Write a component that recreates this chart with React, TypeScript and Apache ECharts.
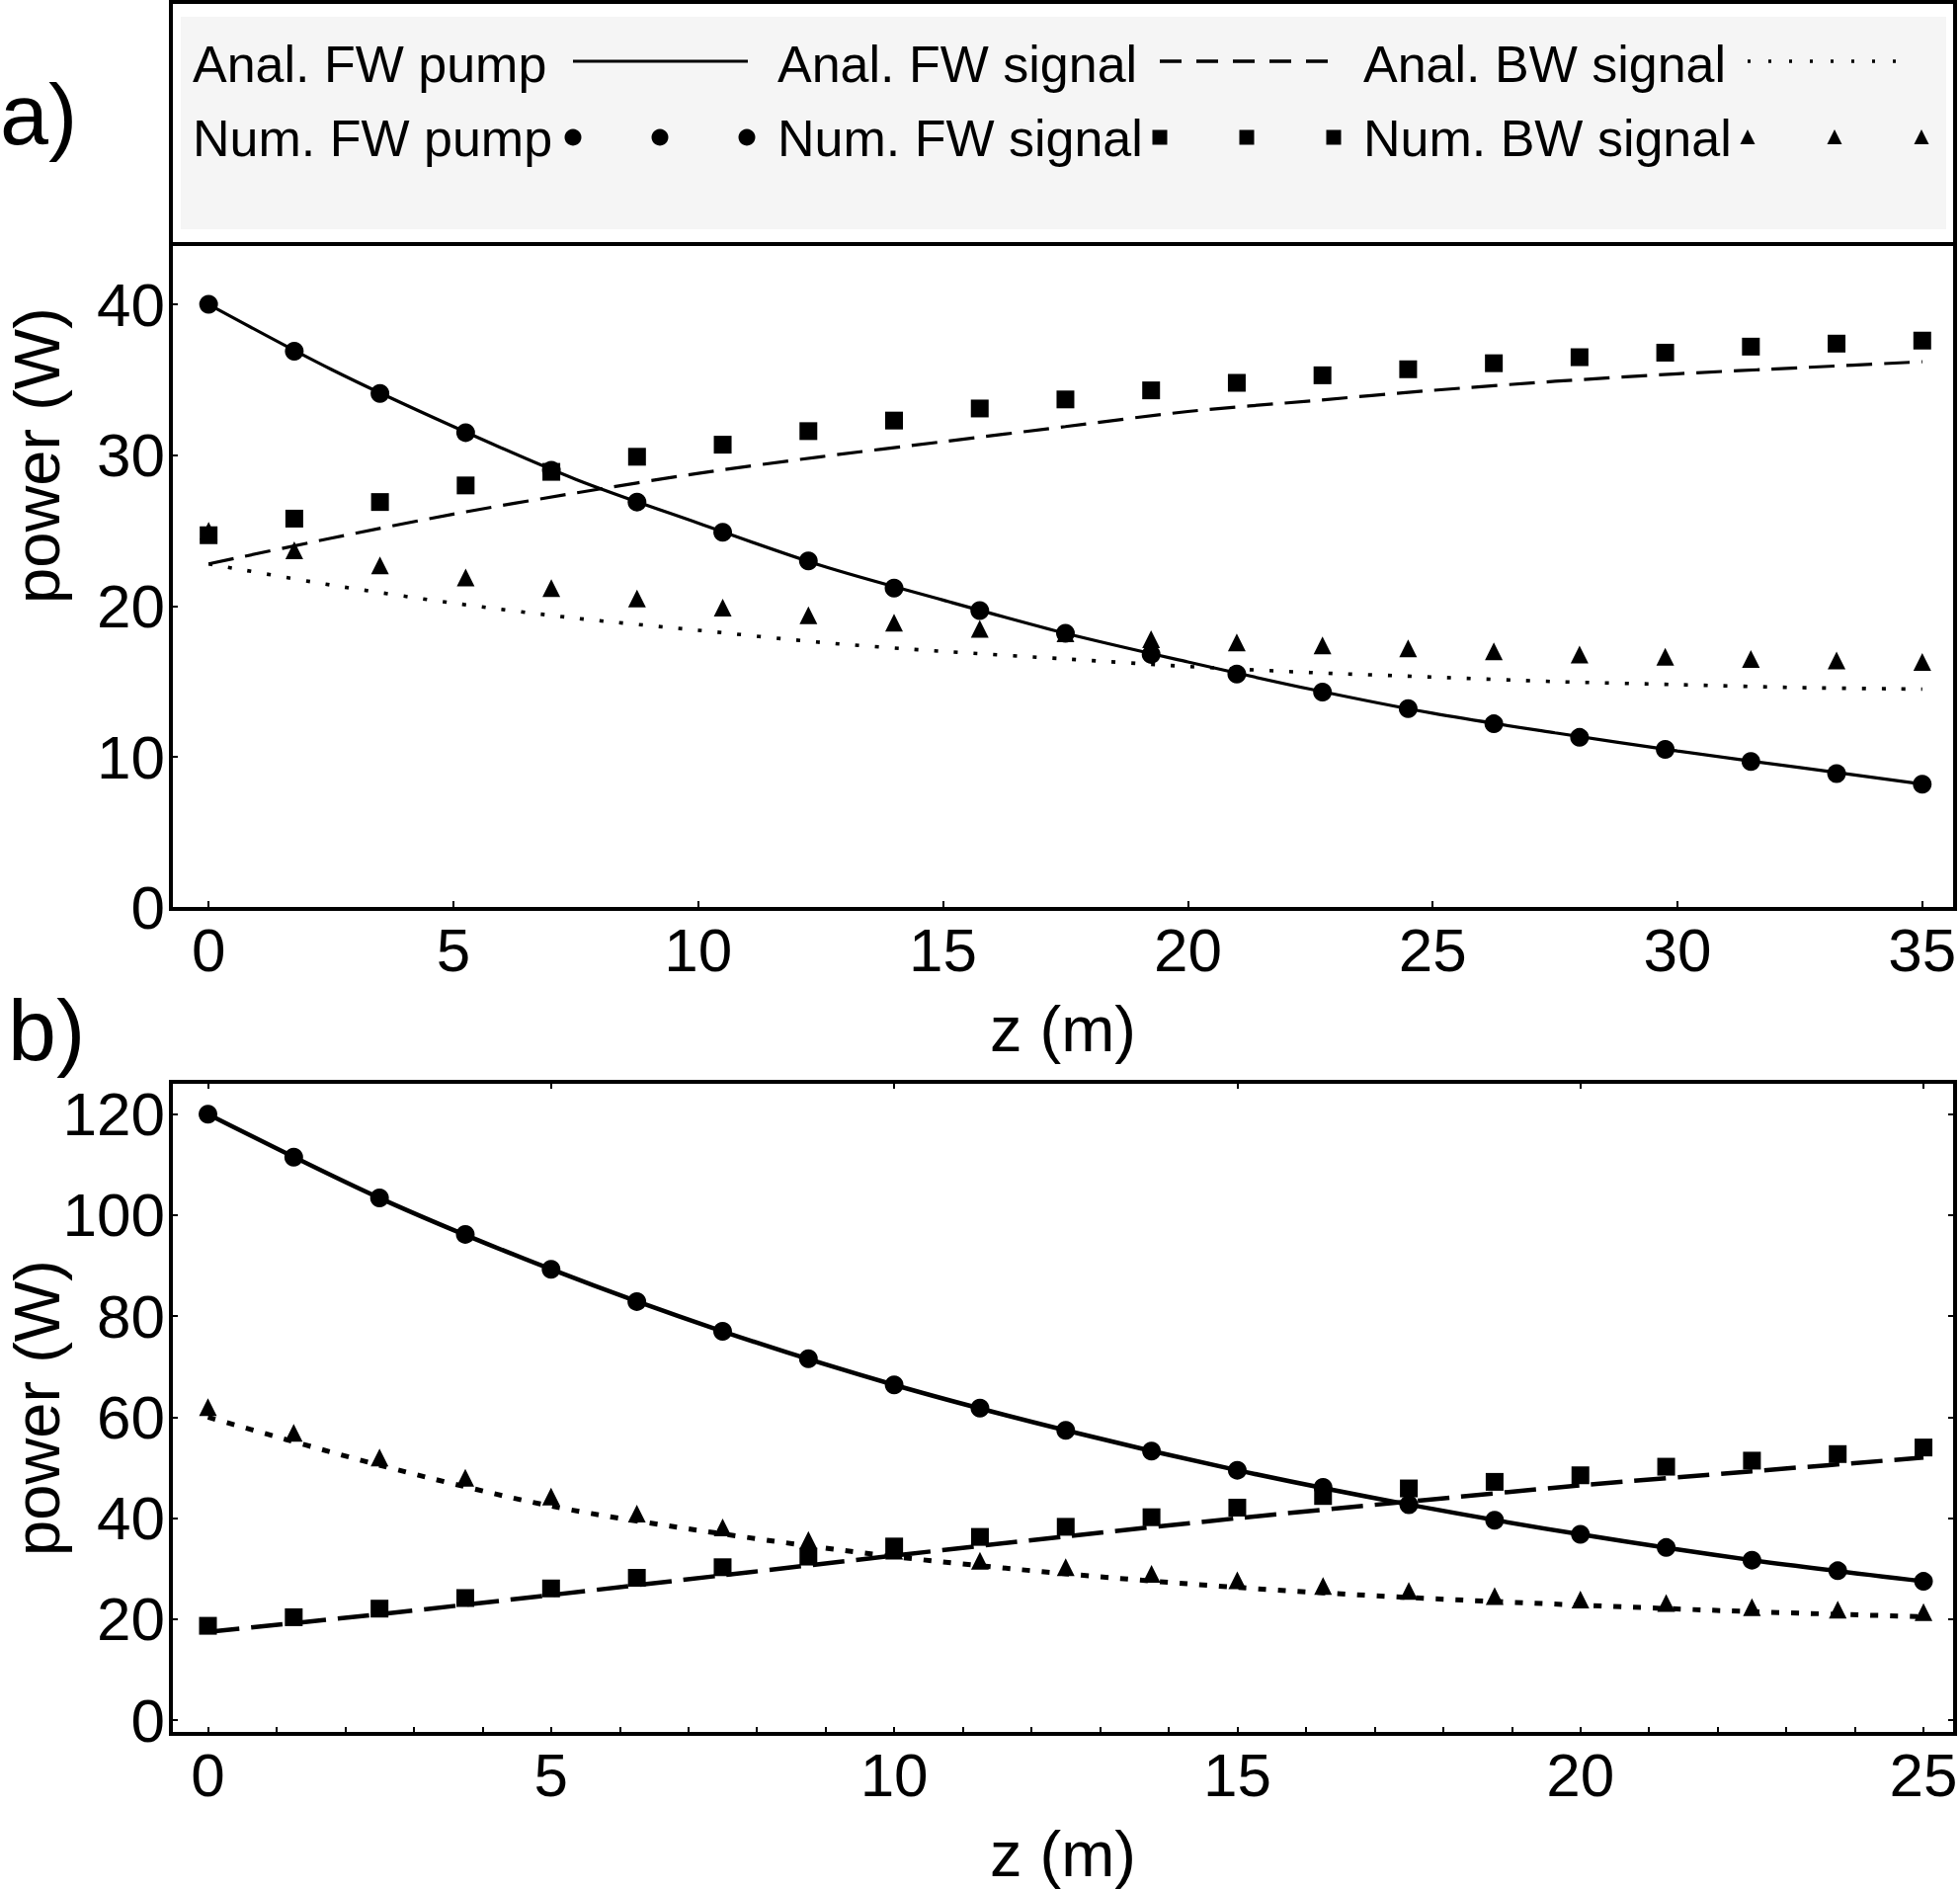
import React, { useEffect, useRef } from "react";
import * as echarts from "echarts";

// ---------- Panel a) data ----------
const zNumA = [0, 1.75, 3.5, 5.25, 7, 8.75, 10.5, 12.25, 14, 15.75, 17.5, 19.25, 21, 22.75, 24.5, 26.25, 28, 29.75, 31.5, 33.25, 35];
const numPumpA = [40.0, 36.9, 34.1, 31.5, 29.0, 26.9, 24.9, 23.0, 21.2, 19.7, 18.2, 16.8, 15.5, 14.3, 13.2, 12.2, 11.3, 10.5, 9.7, 8.9, 8.2];
const numSigA = [24.7, 25.8, 26.9, 28.0, 28.9, 29.9, 30.7, 31.6, 32.3, 33.1, 33.7, 34.3, 34.8, 35.3, 35.7, 36.1, 36.5, 36.8, 37.2, 37.4, 37.6];
const numBwA = [25.0, 23.7, 22.7, 21.9, 21.2, 20.5, 19.9, 19.4, 18.9, 18.5, 18.2, 17.8, 17.6, 17.4, 17.2, 17.0, 16.8, 16.65, 16.5, 16.4, 16.3];

const zAnaA = [0, 2.5, 5, 7.5, 10, 12.5, 15, 17.5, 20, 22.5, 25, 27.5, 30, 32.5, 35];
const anaPumpA = [40.0, 35.7, 31.9, 28.4, 25.5, 22.7, 20.4, 18.2, 16.3, 14.5, 12.9, 11.6, 10.4, 9.3, 8.2];
const anaSigA = [22.8, 24.5, 26.1, 27.5, 28.8, 29.9, 30.9, 31.9, 32.9, 33.6, 34.3, 34.9, 35.4, 35.8, 36.2];
const anaBwA = [22.8, 21.4, 20.2, 19.2, 18.4, 17.6, 17.0, 16.5, 16.0, 15.6, 15.3, 15.0, 14.8, 14.6, 14.5];

const xTicksA = [0, 5, 10, 15, 20, 25, 30, 35];
const yTicksA = [0, 10, 20, 30, 40];

// ---------- Panel b) data ----------
const zNumB = [0, 1.25, 2.5, 3.75, 5, 6.25, 7.5, 8.75, 10, 11.25, 12.5, 13.75, 15, 16.25, 17.5, 18.75, 20, 21.25, 22.5, 23.75, 25];
const numPumpB = [120.0, 111.5, 103.4, 96.2, 89.3, 82.9, 77.0, 71.6, 66.4, 61.8, 57.4, 53.3, 49.5, 46.1, 42.7, 39.6, 36.8, 34.2, 31.7, 29.6, 27.5];
const numSigB = [18.7, 20.4, 22.1, 24.2, 26.1, 28.2, 30.3, 32.4, 34.4, 36.3, 38.3, 40.2, 42.1, 44.4, 45.9, 47.2, 48.5, 50.2, 51.4, 52.7, 54.0];
const numBwB = [62.0, 56.9, 52.0, 48.0, 44.3, 40.9, 38.2, 35.7, 33.6, 31.6, 30.3, 29.0, 27.7, 26.6, 25.6, 24.6, 23.9, 23.2, 22.4, 21.9, 21.4];

const zAnaB = [0, 2.5, 5, 7.5, 10, 12.5, 15, 17.5, 20, 22.5, 25];
const anaPumpB = [120.0, 103.4, 89.3, 77.0, 66.4, 57.4, 49.5, 42.7, 36.8, 31.7, 27.5];
const anaSigB = [17.5, 21.0, 24.8, 28.7, 32.6, 36.4, 40.0, 43.3, 46.5, 49.3, 52.0];
const anaBwB = [60.0, 50.5, 42.4, 36.9, 32.4, 29.0, 26.3, 24.3, 22.8, 21.5, 20.5];

const xTicksB = [0, 5, 10, 15, 20, 25];
const xMinorTicksB = [0, 1, 2, 3, 4, 5, 6, 7, 8, 9, 10, 11, 12, 13, 14, 15, 16, 17, 18, 19, 20, 21, 22, 23, 24, 25];
const yTicksB = [0, 20, 40, 60, 80, 100, 120];

// ---------- Text ----------
const legendRow1 = ["Anal. FW pump", "Anal. FW signal", "Anal. BW signal"];
const legendRow2 = ["Num. FW pump", "Num. FW signal", "Num. BW signal"];
const xName = "z (m)";
const yName = "power (W)";

const FONT = "'Liberation Sans', Arial, Helvetica, sans-serif";
const BLACK = "#000";

const pairs = (xs: number[], ys: number[]) => xs.map((x, i) => [x, ys[i]]);

function buildOption() {
  const tick = (vals: number[], len = 8) => ({
    show: true,
    inside: true,
    length: len,
    customValues: vals,
    lineStyle: { color: BLACK, width: 2 },
  });
  const label = (vals: number[], margin: number) => ({
    show: true,
    customValues: vals,
    fontSize: 62,
    fontFamily: FONT,
    color: BLACK,
    margin,
    hideOverlap: false,
    showMinLabel: true,
    showMaxLabel: true,
  });
  const nameStyle = { fontSize: 65, fontFamily: FONT, color: BLACK };
  const noLine = { show: false, onZero: false };

  const lineSeries = (xi: number, data: number[][], width: number, type: any) => ({
    type: "line",
    xAxisIndex: xi,
    yAxisIndex: xi === 0 ? 0 : 1,
    data,
    smooth: 0.3,
    symbol: "none",
    showSymbol: false,
    silent: true,
    lineStyle: { color: BLACK, width, type, cap: "butt" },
    z: 2,
  });
  const scatterSeries = (xi: number, data: number[][], symbol: string, size: number) => ({
    type: "scatter",
    xAxisIndex: xi,
    yAxisIndex: xi === 0 ? 0 : 1,
    data,
    symbol,
    symbolSize: size,
    silent: true,
    itemStyle: { color: BLACK, opacity: 1 },
    z: 3,
  });

  // legend graphics
  const colX = [195, 787, 1380];
  const sampleX = [580, 1174, 1769];
  const sampleEnd = [757, 1344, 1937];
  const legendEls: any[] = [];
  legendRow1.forEach((t, i) => {
    legendEls.push({
      type: "text",
      x: colX[i],
      y: 65,
      z: 20,
      style: { text: t, font: `52px ${FONT}`, fill: BLACK, textAlign: "left", textVerticalAlign: "middle" },
    });
  });
  legendRow2.forEach((t, i) => {
    legendEls.push({
      type: "text",
      x: colX[i],
      y: 140,
      z: 20,
      style: { text: t, font: `52px ${FONT}`, fill: BLACK, textAlign: "left", textVerticalAlign: "middle" },
    });
  });
  const dashes = [null, [22, 15], [3, 18]];
  sampleX.forEach((sx, i) => {
    legendEls.push({
      type: "line",
      z: 20,
      shape: { x1: sx, y1: 62, x2: sampleEnd[i], y2: 62 },
      style: { stroke: BLACK, lineWidth: i === 0 ? 3 : 3.5, lineDash: dashes[i] || undefined, lineCap: "butt" },
    });
  });
  const symY = 139;
  const offsets = [0, 88, 176];
  offsets.forEach((o) => {
    legendEls.push({ type: "circle", z: 20, shape: { cx: sampleX[0] + o, cy: symY, r: 8.5 }, style: { fill: BLACK } });
    legendEls.push({
      type: "rect",
      z: 20,
      shape: { x: sampleX[1] + o - 7.5, y: symY - 7.5, width: 15, height: 15 },
      style: { fill: BLACK },
    });
    const tx = sampleX[2] + o;
    legendEls.push({
      type: "polygon",
      z: 20,
      shape: { points: [[tx, symY - 8], [tx + 7.5, symY + 7], [tx - 7.5, symY + 7]] },
      style: { fill: BLACK },
    });
  });

  const yTitle = (y: number) => ({
    type: "text",
    x: 37,
    y,
    rotation: Math.PI / 2,
    z: 20,
    style: { text: yName, font: `65px ${FONT}`, fill: BLACK, textAlign: "center", textVerticalAlign: "middle" },
  });

  return {
    animation: false,
    backgroundColor: "#fff",
    grid: [
      { left: 173, top: 247, width: 1806, height: 673, show: false, containLabel: false, outerBoundsMode: "none" },
      { left: 173, top: 1095, width: 1806, height: 660, show: false, containLabel: false, outerBoundsMode: "none" },
    ],
    xAxis: [
      {
        gridIndex: 0,
        type: "value",
        position: "bottom",
        min: -0.77,
        max: 35.67,
        axisLine: noLine,
        splitLine: { show: false },
        axisTick: tick(xTicksA),
        axisLabel: label(xTicksA, 10),
        name: xName,
        nameLocation: "middle",
        nameGap: 89,
        nameTextStyle: nameStyle,
      },
      {
        gridIndex: 1,
        type: "value",
        position: "bottom",
        min: -0.54,
        max: 25.46,
        axisLine: noLine,
        splitLine: { show: false },
        axisTick: tick(xMinorTicksB, 7),
        axisLabel: label(xTicksB, 10),
        name: xName,
        nameLocation: "middle",
        nameGap: 89,
        nameTextStyle: nameStyle,
      },
      {
        gridIndex: 1,
        type: "value",
        position: "top",
        min: -0.54,
        max: 25.46,
        axisLine: noLine,
        splitLine: { show: false },
        axisTick: tick(xTicksB, 7),
        axisLabel: { show: false },
      },
    ],
    yAxis: [
      {
        gridIndex: 0,
        type: "value",
        position: "left",
        min: -0.07,
        max: 44.0,
        axisLine: noLine,
        splitLine: { show: false },
        axisTick: tick(yTicksA, 7),
        axisLabel: label(yTicksA, 6),
      },
      {
        gridIndex: 1,
        type: "value",
        position: "left",
        min: -2.7,
        max: 126.4,
        axisLine: noLine,
        splitLine: { show: false },
        axisTick: tick(yTicksB, 7),
        axisLabel: label(yTicksB, 6),
      },
      {
        gridIndex: 1,
        type: "value",
        position: "right",
        min: -2.7,
        max: 126.4,
        axisLine: noLine,
        splitLine: { show: false },
        axisTick: tick(yTicksB, 7),
        axisLabel: { show: false },
      },
    ],
    series: [
      lineSeries(0, pairs(zAnaA, anaPumpA), 3.2, "solid"),
      lineSeries(0, pairs(zAnaA, anaSigA), 3.2, [26, 12]),
      lineSeries(0, pairs(zAnaA, anaBwA), 3.6, [4, 16]),
      scatterSeries(0, pairs(zNumA, numPumpA), "circle", 19),
      scatterSeries(0, pairs(zNumA, numSigA), "rect", 18),
      scatterSeries(0, pairs(zNumA, numBwA), "triangle", 18),
      lineSeries(1, pairs(zAnaB, anaPumpB), 4.5, "solid"),
      lineSeries(1, pairs(zAnaB, anaSigB), 4.5, [32, 12]),
      lineSeries(1, pairs(zAnaB, anaBwB), 5, [8, 12]),
      scatterSeries(1, pairs(zNumB, numPumpB), "circle", 19),
      scatterSeries(1, pairs(zNumB, numSigB), "rect", 18),
      scatterSeries(1, pairs(zNumB, numBwB), "triangle", 18),
    ],
    graphic: [
      {
        type: "rect",
        z: 1,
        shape: { x: 183, y: 17, width: 1787, height: 215 },
        style: { fill: "#f5f5f5", stroke: "none" },
      },
      {
        type: "rect",
        z: 30,
        shape: { x: 173, y: 2, width: 1806, height: 918 },
        style: { fill: "none", stroke: BLACK, lineWidth: 4 },
      },
      {
        type: "line",
        z: 30,
        shape: { x1: 173, y1: 247, x2: 1979, y2: 247 },
        style: { stroke: BLACK, lineWidth: 4 },
      },
      {
        type: "rect",
        z: 30,
        shape: { x: 173, y: 1095, width: 1806, height: 660 },
        style: { fill: "none", stroke: BLACK, lineWidth: 4 },
      },
      yTitle(461),
      yTitle(1425),
      {
        type: "text",
        x: 0,
        y: 115,
        z: 20,
        style: { text: "a)", font: `88px ${FONT}`, fill: BLACK, textAlign: "left", textVerticalAlign: "middle" },
      },
      {
        type: "text",
        x: 8,
        y: 1042,
        z: 20,
        style: { text: "b)", font: `88px ${FONT}`, fill: BLACK, textAlign: "left", textVerticalAlign: "middle" },
      },
      ...legendEls,
    ],
  };
}

export default function App() {
  const ref = useRef<HTMLDivElement>(null);
  useEffect(() => {
    if (!ref.current) return;
    const chart = echarts.init(ref.current, null, { renderer: "svg" });
    chart.setOption(buildOption() as any);
    return () => chart.dispose();
  }, []);
  return (
    <div
      ref={ref}
      style={{ position: "absolute", left: 0, top: 0, width: 1984, height: 1913, background: "#fff" }}
    />
  );
}
